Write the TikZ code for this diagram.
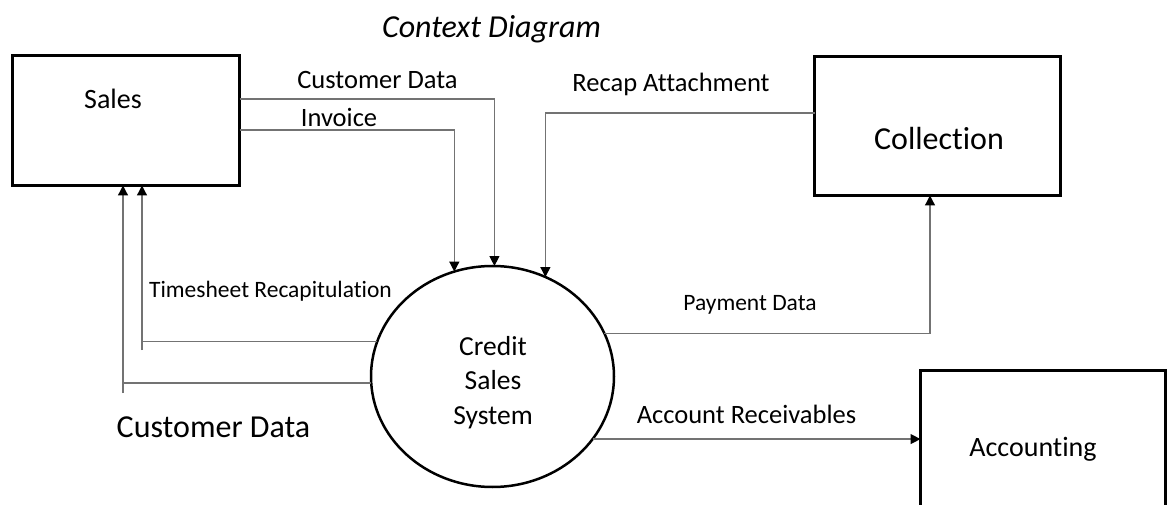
\documentclass[tikz,border=0pt]{standalone}
\usepackage{fontspec}
\setmainfont{Carlito}[Ligatures={NoCommon}]
\usetikzlibrary{arrows.meta,shapes.geometric}
\begin{document}
\begin{tikzpicture}[x=1pt,y=-1pt,
  box/.style={draw,line width=3pt,inner sep=0pt,outer sep=0pt},
  proc/.style={draw,ellipse,line width=2.5pt,inner sep=0pt,outer sep=0pt,
    minimum width=243pt,minimum height=221pt},
  flow/.style={draw=black!55,line width=1.3pt},
  arr/.style={flow,-{Triangle[length=10pt,width=10pt,color=black]}},
  lbl/.style={inner sep=0pt,anchor=base},
  f23/.style={font=\fontsize{23.5}{28}\selectfont},
  f26/.style={font=\fontsize{26.5}{32}\selectfont},
  f28/.style={font=\fontsize{28}{34}\selectfont},
  f32/.style={font=\fontsize{32}{38}\selectfont},
]
\useasboundingbox (0,0) rectangle (1168,505);
\fill[white] (0,0) rectangle (1168,505);
\clip (0,0) rectangle (1168,505);

% title
\node[lbl,font=\itshape\fontsize{32}{38}\selectfont] (title) at (491.5,38) {Context Diagram};

% external entities and the process
\node[box,minimum width=227pt,minimum height=130pt] (sales) at (126,120.5) {};
\node[lbl,f28] (salesT) at (113,109) {Sales};
\node[box,minimum width=246pt,minimum height=139pt] (coll) at (937.5,126) {};
\node[lbl,f32] (collT) at (939,150) {Collection};
\node[box,minimum width=245pt,minimum height=160pt] (acc) at (1043,450.5) {};
\node[lbl,f28] (accT) at (1033,456) {Accounting};
\node[proc] (css) at (492.5,376.5) {};
% the base anchor of a multi-line node sits on its last line
\node[lbl,align=center,font=\fontsize{27.5}{34.5}\selectfont] (cssT) at (493,424) {Credit\\Sales\\System};

% flows into the process
\draw[arr] (sales.east |- 0,99) -| (css.89);
\draw[arr] (sales.east |- 0,130) -| (css.110);
\draw[arr] (coll.west |- 0,113) -| (css.62);
\node[lbl,f26] (cdT) at (377.5,89) {Customer Data};
\node[lbl,f26] (invT) at (339,127) {Invoice};
\node[lbl,f26] (recT) at (671,92) {Recap Attachment};

% flows out of the process
\draw[arr] (css.21) -| (930,0 |- coll.south);
\draw[arr] (css.328) -- (css.328 -| acc.west);
\node[lbl,f23] (payT) at (750,310) {Payment Data};
\node[lbl,f26] (arT) at (746.5,423) {Account Receivables};

% flows back to sales
\coordinate (tsFoot) at (142,350);
\coordinate (cdFoot) at (123,393);
\draw[flow] (css.163) -- (tsFoot |- css.163);
\draw[arr] (tsFoot) -- (tsFoot |- sales.south);
\draw[flow] (css.183) -- (cdFoot |- css.183);
\draw[arr] (cdFoot) -- (cdFoot |- sales.south);
\node[lbl,f23] (tsT) at (270.5,298) {Timesheet Recapitulation};
\node[lbl,f32] (cd2T) at (213.5,437) {Customer Data};
\end{tikzpicture}
\end{document}
